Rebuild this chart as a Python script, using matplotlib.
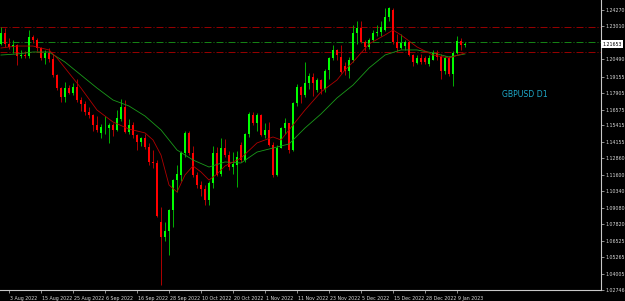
import matplotlib
matplotlib.use("Agg")
import matplotlib.pyplot as plt
import matplotlib.transforms as mtransforms
import numpy as np
import pandas as pd

# daily bars, 1 Aug 2022 - 11 Jan 2023 (no bar on 26 Dec)
dates = pd.bdate_range("2022-08-01", "2023-01-11").drop(pd.Timestamp("2022-12-26"))

opens = [1.2168, 1.2250, 1.2165, 1.2143, 1.2160, 1.2070, 1.2083, 1.2075, 1.2219, 1.2195,
         1.2135, 1.2058, 1.2100, 1.2050, 1.1927, 1.1827, 1.1758, 1.1827, 1.1789, 1.1835,
         1.1735, 1.1705, 1.1643, 1.1620, 1.1543, 1.1482, 1.1518, 1.1522, 1.1543, 1.1505,
         1.1590, 1.1680, 1.1490, 1.1543, 1.1466, 1.1413, 1.1440, 1.1375, 1.1258, 1.1250,
         1.0797, 1.0682, 1.0728, 1.0890, 1.1120, 1.1159, 1.1328, 1.1482, 1.1328, 1.1159,
         1.1082, 1.1051, 1.0967, 1.1097, 1.1328, 1.1170, 1.1366, 1.1312, 1.1220, 1.1236,
         1.1393, 1.1274, 1.1477, 1.1620, 1.1558, 1.1620, 1.1466, 1.1505, 1.1389, 1.1159,
         1.1370, 1.1520, 1.1555, 1.1351, 1.1712, 1.1835, 1.1774, 1.1866, 1.1912, 1.1812,
         1.1889, 1.1820, 1.1966, 1.2058, 1.2120, 1.2065, 1.2000, 1.1955, 1.2043, 1.2254,
         1.2289, 1.2180, 1.2143, 1.2196, 1.2250, 1.2258, 1.2273, 1.2373, 1.2427, 1.2181,
         1.2135, 1.2150, 1.2181, 1.2081, 1.2020, 1.2058, 1.2058, 1.2012, 1.2040, 1.2096,
         1.2065, 1.1960, 1.2055, 1.1935, 1.2095, 1.2190, 1.2155]
highs = [1.2294, 1.2290, 1.2208, 1.2200, 1.2165, 1.2120, 1.2110, 1.2275, 1.2235, 1.2210,
         1.2140, 1.2120, 1.2135, 1.2090, 1.1935, 1.1835, 1.1870, 1.1850, 1.1865, 1.1900,
         1.1755, 1.1730, 1.1680, 1.1625, 1.1610, 1.1550, 1.1610, 1.1560, 1.1560, 1.1655,
         1.1740, 1.1735, 1.1590, 1.1565, 1.1475, 1.1450, 1.1475, 1.1405, 1.1350, 1.1273,
         1.0910, 1.0800, 1.0900, 1.1125, 1.1235, 1.1340, 1.1495, 1.1495, 1.1380, 1.1180,
         1.1110, 1.1080, 1.1110, 1.1380, 1.1375, 1.1440, 1.1435, 1.1340, 1.1335, 1.1340,
         1.1410, 1.1480, 1.1645, 1.1645, 1.1635, 1.1625, 1.1560, 1.1565, 1.1410, 1.1390,
         1.1530, 1.1600, 1.1560, 1.1720, 1.1855, 1.1840, 1.2027, 1.1945, 1.1940, 1.1905,
         1.1900, 1.1975, 1.2065, 1.2155, 1.2125, 1.2155, 1.2030, 1.2065, 1.2310, 1.2345,
         1.2342, 1.2200, 1.2215, 1.2275, 1.2310, 1.2345, 1.2445, 1.2450, 1.2440, 1.2240,
         1.2240, 1.2200, 1.2190, 1.2090, 1.2080, 1.2090, 1.2075, 1.2080, 1.2120, 1.2120,
         1.2085, 1.2070, 1.2075, 1.2110, 1.2230, 1.2215, 1.2180]
lows = [1.2155, 1.2140, 1.2130, 1.2100, 1.2005, 1.2055, 1.2055, 1.2060, 1.2170, 1.2110,
        1.2040, 1.2010, 1.2030, 1.1915, 1.1815, 1.1720, 1.1719, 1.1780, 1.1770, 1.1720,
        1.1650, 1.1620, 1.1600, 1.1500, 1.1490, 1.1445, 1.1470, 1.1405, 1.1460, 1.1495,
        1.1575, 1.1480, 1.1475, 1.1440, 1.1350, 1.1380, 1.1355, 1.1235, 1.1210, 1.0839,
        1.0313, 1.0650, 1.0544, 1.0760, 1.1025, 1.1110, 1.1300, 1.1315, 1.1145, 1.1060,
        1.0995, 1.0925, 1.0925, 1.1060, 1.1150, 1.1150, 1.1300, 1.1200, 1.1170, 1.1066,
        1.1255, 1.1260, 1.1450, 1.1540, 1.1500, 1.1455, 1.1440, 1.1380, 1.1145, 1.1150,
        1.1365, 1.1475, 1.1330, 1.1340, 1.1690, 1.1710, 1.1760, 1.1820, 1.1765, 1.1800,
        1.1780, 1.1800, 1.1900, 1.2040, 1.2045, 1.1945, 1.1930, 1.1904, 1.2030, 1.2165,
        1.2170, 1.2110, 1.2125, 1.2190, 1.2230, 1.2225, 1.2265, 1.2340, 1.2165, 1.2110,
        1.2130, 1.2120, 1.2070, 1.2000, 1.2010, 1.2010, 1.2010, 1.2000, 1.2040, 1.2040,
        1.1900, 1.1935, 1.1920, 1.1845, 1.2085, 1.2120, 1.2140]
closes = [1.2250, 1.2165, 1.2143, 1.2160, 1.2070, 1.2083, 1.2075, 1.2219, 1.2195, 1.2135,
          1.2058, 1.2100, 1.2050, 1.1927, 1.1827, 1.1758, 1.1827, 1.1789, 1.1835, 1.1735,
          1.1705, 1.1643, 1.1620, 1.1543, 1.1505, 1.1528, 1.1522, 1.1543, 1.1505, 1.1597,
          1.1680, 1.1490, 1.1543, 1.1466, 1.1413, 1.1440, 1.1375, 1.1258, 1.1250, 1.0843,
          1.0682, 1.0728, 1.0890, 1.1120, 1.1166, 1.1328, 1.1482, 1.1328, 1.1159, 1.1082,
          1.1051, 1.0967, 1.1097, 1.1328, 1.1159, 1.1366, 1.1312, 1.1220, 1.1243, 1.1297,
          1.1274, 1.1477, 1.1630, 1.1558, 1.1620, 1.1466, 1.1505, 1.1389, 1.1159, 1.1370,
          1.1520, 1.1555, 1.1351, 1.1712, 1.1835, 1.1774, 1.1866, 1.1920, 1.1866, 1.1889,
          1.1820, 1.1958, 1.2058, 1.2120, 1.2081, 1.1950, 1.1955, 1.2043, 1.2254, 1.2289,
          1.2180, 1.2143, 1.2196, 1.2250, 1.2258, 1.2296, 1.2373, 1.2442, 1.2181, 1.2135,
          1.2170, 1.2180, 1.2081, 1.2027, 1.2058, 1.2027, 1.2027, 1.2058, 1.2096, 1.2065,
          1.1960, 1.2055, 1.1935, 1.2095, 1.2190, 1.2160, 1.2165]

# moving averages at every few bars
ma_fast_idx = [0, 4, 8, 12, 14, 16, 20, 24, 28, 32, 36, 38, 40, 42, 44, 46, 48, 50, 52, 54,
               56, 60, 64, 68, 70, 72, 76, 80, 84, 86, 88, 92, 96, 98, 100, 104, 108, 112, 116]
ma_fast = [1.2135, 1.2150, 1.2150, 1.2120, 1.2058, 1.1981, 1.1827, 1.1658, 1.1566, 1.1512,
           1.1482, 1.1428, 1.1312, 1.1082, 1.1028, 1.1159, 1.1228, 1.1182, 1.1120, 1.1166,
           1.1228, 1.1289, 1.1405, 1.1451, 1.1428, 1.1505, 1.1658, 1.1797, 1.1889, 1.1966,
           1.2027, 1.2166, 1.2235, 1.2273, 1.2235, 1.2143, 1.2081, 1.2058, 1.2097]
ma_slow_idx = list(range(0, 117, 4))
ma_slow = [1.2081, 1.2089, 1.2104, 1.2104, 1.2027, 1.1927, 1.1827, 1.1735, 1.1689, 1.1612,
           1.1505, 1.1351, 1.1274, 1.1220, 1.1259, 1.1251, 1.1335, 1.1366, 1.1397, 1.1520,
           1.1628, 1.1751, 1.1850, 1.1981, 1.2081, 1.2120, 1.2120, 1.2097, 1.2066, 1.2089]

level_lines = [(1.2296, "#b00000"), (1.2179, "#1a9a1a"), (1.2104, "#b00000")]
price_ticks = [1.24270, 1.23010, 1.20490, 1.19155, 1.17905, 1.16575, 1.15415, 1.14155,
               1.12860, 1.11600, 1.10340, 1.09080, 1.07820, 1.06525, 1.05265, 1.04005, 1.02746]
last_price = 1.21653

fig = plt.figure(figsize=(6.25, 3.01), dpi=100, facecolor="black")
ax = fig.add_axes([0, 11 / 301, 601 / 625, 290 / 301], facecolor="black")

x = np.arange(len(dates))
o = np.array(opens); h = np.array(highs); l = np.array(lows); c = np.array(closes)
up = c >= o
bull, bear = "#00ff00", "#ff0000"

ax.vlines(x[up], l[up], h[up], color="#00b000", lw=0.7, zorder=2)
ax.vlines(x[~up], l[~up], h[~up], color="#b00000", lw=0.7, zorder=2)
ax.bar(x[up], (c - o)[up], bottom=o[up], width=0.72, color=bull, lw=0, zorder=3)
ax.bar(x[~up], (o - c)[~up], bottom=c[~up], width=0.72, color=bear, lw=0, zorder=3)

ax.plot(ma_slow_idx, ma_slow, color="#1a9a1a", lw=0.6, zorder=4)
ax.plot(ma_fast_idx, ma_fast, color="#b00000", lw=0.6, zorder=4)

# dash-dot levels
for lvl, col in level_lines:
    ax.axhline(lvl, color=col, lw=0.6, ls=(0, (8.4, 2.4, 1.2, 2.4)), zorder=1)

ax.set_xlim(-0.25, 150)
ax.set_ylim(1.02746, 1.25039)

for s in ["top", "left"]:
    ax.spines[s].set_visible(False)
for s in ["right", "bottom"]:
    ax.spines[s].set_color("#c8c8c8")
    ax.spines[s].set_linewidth(0.8)

ax.yaxis.tick_right()
ax.set_yticks(price_ticks)
ax.set_yticklabels([f"{p:.5f}" for p in price_ticks])
ax.tick_params(axis="y", colors="#c8c8c8", labelcolor="#d8d8d8", labelsize=3.4,
               length=2, width=0.5, pad=1)

tick_pos = x[2::8]
ax.set_xticks(tick_pos)
ax.set_xticklabels([f"{d.day} {d:%b %Y}" for d in dates[2::8]], ha="left")
ax.tick_params(axis="x", colors="#c8c8c8", labelcolor="#d8d8d8", labelsize=3.4,
               length=2.5, width=0.5, pad=1.5)
for lab in ax.get_xticklabels():
    lab.set_transform(lab.get_transform() + mtransforms.ScaledTranslation(1.5 / 100, 0, fig.dpi_scale_trans))

trans = mtransforms.blended_transform_factory(ax.transAxes, ax.transData)
ax.text(1.002, last_price, f"{last_price:.5f}", transform=trans, fontsize=3.4, color="black",
        va="center", ha="left",
        bbox=dict(boxstyle="square,pad=0.25", fc="white", ec="white", lw=0))

ax.text(116 + 9.3, 1.1781, "GBPUSD D1", fontsize=5.6, color="#1ea8c8", va="center", ha="left")

fig.savefig("out.png", dpi=100, facecolor="black")
